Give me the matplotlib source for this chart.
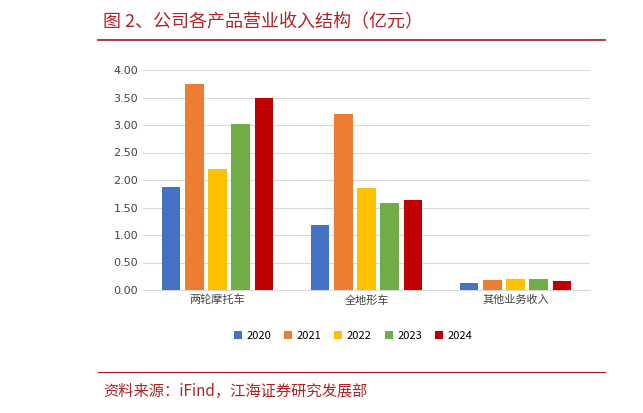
import matplotlib
matplotlib.use("Agg")
import matplotlib.pyplot as plt
import numpy as np

plt.rcParams['font.family'] = ['Noto Sans CJK SC', 'DejaVu Sans']

categories = ["两轮摩托车", "全地形车", "其他业务收入"]
years = ["2020", "2021", "2022", "2023", "2024"]
values = {
    "2020": [1.87, 1.18, 0.12],
    "2021": [3.75, 3.20, 0.18],
    "2022": [2.20, 1.85, 0.20],
    "2023": [3.02, 1.58, 0.20],
    "2024": [3.49, 1.64, 0.16],
}
colors = ["#4472C4", "#ED7D31", "#FFC000", "#70AD47", "#C00000"]
yticks = [0, 0.5, 1.0, 1.5, 2.0, 2.5, 3.0, 3.5, 4.0]

fig = plt.figure(figsize=(6.43, 4.13), dpi=100)
ax = fig.add_axes([143/643, 1-290/413, 447/643, 220/413])
x = np.arange(len(categories))
w = 0.123
for i, y in enumerate(years):
    ax.bar(x + (i-2)*0.155, values[y], w, color=colors[i], label=y, zorder=3)
ax.set_xlim(-0.5, 2.5)
ax.set_ylim(0, 4.0)
ax.set_yticks(yticks)
ax.set_yticklabels([f"{v:.2f}" for v in yticks], fontsize=8, color="#444444", family=['DejaVu Sans'])
ax.set_xticks(x)
ax.set_xticklabels(categories, fontsize=8, color="#444444")
ax.grid(axis='y', color="#D9D9D9", lw=0.8, zorder=0)
for s in ax.spines.values():
    s.set_visible(False)
ax.spines['bottom'].set_visible(True)
ax.spines['bottom'].set_color("#D9D9D9")
ax.tick_params(length=0)
ax.legend(loc='upper center', bbox_to_anchor=(0.47, -0.14), ncol=5, frameon=False,
          fontsize=8, handlelength=0.7, handleheight=0.7, columnspacing=1.2, handletextpad=0.4)

fig.text(103/643, 1-22/413, "图 2、公司各产品营业收入结构（亿元）", fontsize=13, color="#B22222", va='center')
fig.add_artist(plt.Line2D([98/643, 605/643], [1-40/413]*2, color="#9B1C1C", lw=1.2))
fig.add_artist(plt.Line2D([98/643, 605/643], [1-372/413]*2, color="#9B1C1C", lw=0.8))
fig.text(103/643, 1-391/413, "资料来源：iFind，江海证券研究发展部", fontsize=11, color="#B22222", va='center')
fig.savefig("out.png", dpi=100)
